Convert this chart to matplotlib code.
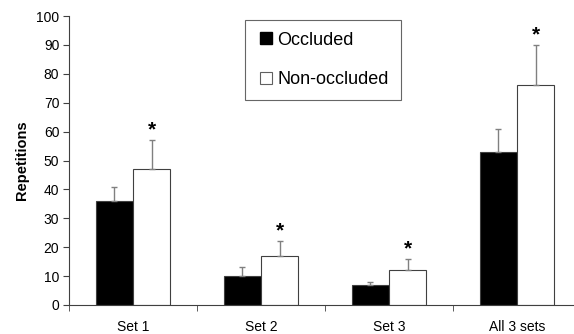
import matplotlib
matplotlib.use('Agg')
import matplotlib.pyplot as plt
import matplotlib as mpl
from matplotlib.lines import Line2D
import numpy as np

categories = ['Set 1', 'Set 2', 'Set 3', 'All 3 sets']
occluded = [36, 10, 7, 53]
occluded_err = [5, 3, 1, 8]
non_occluded = [47, 17, 12, 76]
non_occluded_err = [10, 5, 4, 14]

mpl.rc('font', family=['Liberation Sans', 'DejaVu Sans'], size=10)

fig = plt.figure(figsize=(5.74, 3.34), dpi=100)
ax = fig.add_axes([69/574, 29/334, 512/574, 289/334])

x = np.arange(len(categories))
w = 0.29
ekw = {'ecolor': '#808080', 'elinewidth': 1.0, 'capsize': 2, 'capthick': 1.0}
ax.bar(x - w/2, occluded, w, color='black', edgecolor='#404040', linewidth=0.8,
       yerr=[np.zeros(len(x)), occluded_err], error_kw=ekw, zorder=2)
ax.bar(x + w/2, non_occluded, w, color='white', edgecolor='#404040', linewidth=0.8,
       yerr=[np.zeros(len(x)), non_occluded_err], error_kw=ekw, zorder=2)

# significance markers
for i in range(len(x)):
    top = non_occluded[i] + non_occluded_err[i]
    ax.text(x[i] + w/2, top + 0.3, '*', ha='center', va='bottom', fontsize=15, fontweight='bold')

ax.set_xlim(-0.5, 3.5)
ax.set_ylim(0, 100)
ax.set_yticks(range(0, 101, 10))
ax.set_xticks(x)
ax.set_xticklabels(categories)
ax.set_xticks(np.arange(-0.5, 3.6, 1), minor=True)
ax.tick_params(axis='x', which='major', length=0, pad=11)
ax.tick_params(axis='x', which='minor', length=4, direction='out', color='#404040')
ax.tick_params(axis='y', length=4, direction='out', color='#404040', pad=3)
ax.spines['top'].set_visible(False)
ax.spines['right'].set_visible(False)
ax.spines['left'].set_color('#404040')
ax.spines['bottom'].set_color('#404040')
ax.set_ylabel('Repetitions', fontweight='bold', fontsize=10.5, labelpad=5)

handles = [Line2D([], [], marker='s', linestyle='none', markersize=8,
                  markerfacecolor='black', markeredgecolor='black'),
           Line2D([], [], marker='s', linestyle='none', markersize=8,
                  markerfacecolor='white', markeredgecolor='#606060', markeredgewidth=0.8)]
leg = ax.legend(handles, ['Occluded', 'Non-occluded'], loc='upper left',
                bbox_to_anchor=(245/574, 1 - 20/334), bbox_transform=fig.transFigure,
                fontsize=13, frameon=True, fancybox=False, edgecolor='#404040',
                handletextpad=0.15, handlelength=1.0, labelspacing=1.25,
                borderpad=0.65, borderaxespad=0)
leg.get_frame().set_linewidth(0.8)

plt.savefig('out.png', dpi=100)
